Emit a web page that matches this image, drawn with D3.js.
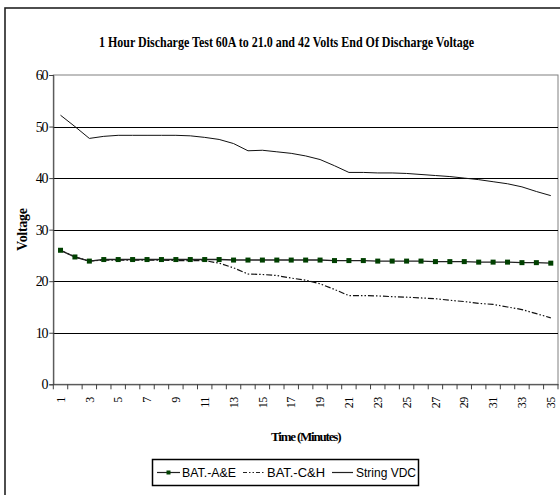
<!DOCTYPE html>
<html><head><meta charset="utf-8">
<script src="https://cdn.jsdelivr.net/npm/d3@7"></script>
<style>body{margin:0;background:#fff}</style>
</head><body><svg id="c" width="560" height="495"></svg>
<script>
const minutes = [1,2,3,4,5,6,7,8,9,10,11,12,13,14,15,16,17,18,19,20,21,22,23,24,25,26,27,28,29,30,31,32,33,34,35];
const batAE = [26.0,24.7,23.9,24.2,24.2,24.2,24.2,24.2,24.2,24.2,24.2,24.2,24.1,24.1,24.1,24.1,24.1,24.1,24.1,24.0,24.0,24.0,23.9,23.9,23.9,23.9,23.8,23.8,23.8,23.7,23.7,23.7,23.6,23.6,23.5];
const batCH = [26.0,24.7,23.9,24.1,24.1,24.1,24.1,24.1,24.0,24.0,24.0,23.5,22.6,21.4,21.3,21.1,20.6,20.2,19.5,18.4,17.2,17.2,17.15,17.0,16.9,16.75,16.6,16.3,16.05,15.7,15.5,15.0,14.5,13.7,12.9];
const stringVDC = [52.2,50.0,47.7,48.1,48.3,48.3,48.3,48.3,48.3,48.2,47.9,47.5,46.7,45.3,45.4,45.1,44.8,44.3,43.6,42.4,41.1,41.1,41.0,41.0,40.9,40.7,40.5,40.3,40.0,39.7,39.3,38.9,38.3,37.4,36.6];
const yTicks = [0,10,20,30,40,50,60];
const xTickLabels = [1,3,5,7,9,11,13,15,17,19,21,23,25,27,29,31,33,35];
const seriesNames = ["BAT.-A&E","BAT.-C&H","String VDC"];
const titleText = "1 Hour Discharge Test 60A to 21.0 and 42 Volts End Of Discharge Voltage";

const svg = d3.select("#c");
const L = 53.3, R = 558, T = 75, B = 384.3;
const x = d3.scaleBand().domain(minutes).range([L, R]);
const y = d3.scaleLinear().domain([0, 60]).range([B, T]);
const cx = d => x(d) + x.bandwidth() / 2;
const serif = "'Liberation Serif','Times New Roman',serif";

// outer chart border
svg.append("rect").attr("x", 5).attr("y", 8).attr("width", 600).attr("height", 600)
  .attr("fill", "#fff").attr("stroke", "#222").attr("stroke-width", 1.6);

// title
svg.append("text").attr("x", 99).attr("y", 47).attr("font-family", serif)
  .attr("font-weight", "bold").attr("font-size", 14)
  .attr("textLength", 375).attr("lengthAdjust", "spacingAndGlyphs").text(titleText);

// plot area border
svg.append("rect").attr("x", L).attr("y", T).attr("width", R - L).attr("height", B - T)
  .attr("fill", "none").attr("stroke", "#808080").attr("stroke-width", 1);

// gridlines
svg.append("g").selectAll("line").data(yTicks.filter(v => v > 0 && v < 60)).join("line")
  .attr("x1", L).attr("x2", R).attr("y1", d => Math.round(y(d)) + 0.5).attr("y2", d => Math.round(y(d)) + 0.5)
  .attr("stroke", "#000").attr("stroke-width", 1);

// y axis
const ya = svg.append("g").attr("transform", `translate(${L},0)`)
  .call(d3.axisLeft(y).tickValues(yTicks).tickSize(4).tickPadding(2).tickFormat(d3.format("d")));
ya.select(".domain").attr("stroke", "#404040");
ya.selectAll(".tick line").attr("stroke", "#404040");
ya.selectAll("text").attr("font-family", serif).attr("font-size", 14).attr("letter-spacing", -1.2).attr("fill", "#000");

// x axis
const xa = svg.append("g").attr("transform", `translate(0,${B})`)
  .call(d3.axisBottom(x).tickSize(0).tickFormat(d => xTickLabels.includes(d) ? d : ""));
xa.select(".domain").attr("stroke", "#404040");
xa.selectAll("text").attr("font-family", serif).attr("font-size", 12).attr("fill", "#000")
  .attr("letter-spacing", -0.5)
  .attr("transform", "rotate(-90)").attr("text-anchor", "end").attr("dy", "0.35em")
  .attr("x", -13).attr("y", 0);
// boundary ticks
svg.append("g").selectAll("line").data(minutes.map(d => x(d)).concat([R])).join("line")
  .attr("x1", d => d).attr("x2", d => d).attr("y1", B).attr("y2", B + 5)
  .attr("stroke", "#404040");

// axis titles
svg.append("text").attr("transform", `translate(27,${(T + B) / 2}) rotate(-90)`)
  .attr("text-anchor", "middle").attr("font-family", serif).attr("font-weight", "bold")
  .attr("font-size", 14).attr("letter-spacing", -0.3).text("Voltage");
svg.append("text").attr("x", (L + R) / 2).attr("y", 441).attr("text-anchor", "middle")
  .attr("font-family", serif).attr("font-weight", "bold").attr("font-size", 13)
  .attr("letter-spacing", -1.2).text("Time (Minutes)");

// lines
const line = d3.line().x((d, i) => cx(minutes[i])).y(d => y(d));
svg.append("path").datum(stringVDC).attr("d", line).attr("fill", "none").attr("stroke", "#111").attr("stroke-width", 1);
svg.append("path").datum(batCH).attr("d", line).attr("fill", "none").attr("stroke", "#111")
  .attr("stroke-width", 1.2).attr("stroke-dasharray", "6,2,1.5,2,1.5,2");
svg.append("path").datum(batAE).attr("d", line).attr("fill", "none").attr("stroke", "#222").attr("stroke-width", 1.4);
svg.append("g").selectAll("rect").data(batAE).join("rect")
  .attr("x", (d, i) => cx(minutes[i]) - 2.5).attr("y", d => y(d) - 2.5)
  .attr("width", 5).attr("height", 5).attr("fill", "#004000");

// legend
const lg = svg.append("g");
lg.append("rect").attr("x", 152.5).attr("y", 459.5).attr("width", 266).attr("height", 26)
  .attr("fill", "#fff").attr("stroke", "#000").attr("stroke-width", 1.5);
const ly = 472.5;
const items = [
  {x1: 157, x2: 180, tx: 182, w: 54, dash: null, marker: true},
  {x1: 243, x2: 264, tx: 267, w: 58, dash: "4,2,1.5,2,1.5,2", marker: false},
  {x1: 332, x2: 353, tx: 356, w: 60, dash: null, marker: false}
];
items.forEach((it, i) => {
  lg.append("line").attr("x1", it.x1).attr("x2", it.x2).attr("y1", ly).attr("y2", ly)
    .attr("stroke", "#222").attr("stroke-width", 1.2).attr("stroke-dasharray", it.dash);
  if (it.marker) lg.append("rect").attr("x", (it.x1 + it.x2) / 2 - 2).attr("y", ly - 2)
    .attr("width", 4).attr("height", 4).attr("fill", "#004000");
  lg.append("text").attr("x", it.tx).attr("y", ly + 4.5).attr("font-family", "'Liberation Sans',Arial,sans-serif")
    .attr("font-size", 13).attr("textLength", it.w).attr("lengthAdjust", "spacingAndGlyphs").text(seriesNames[i]);
});
</script></body></html>
